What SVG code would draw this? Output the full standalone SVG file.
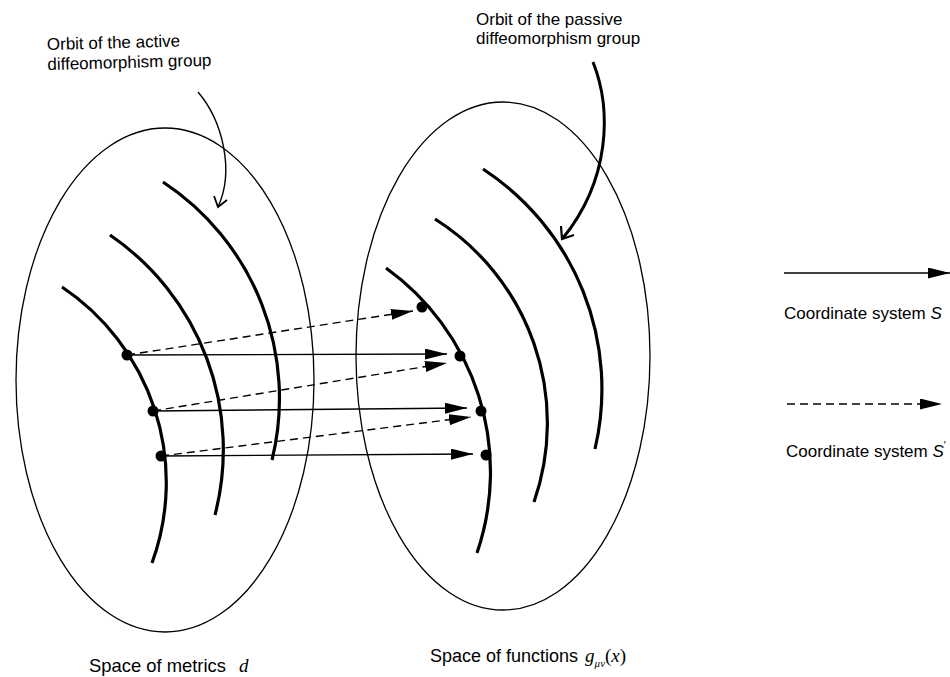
<svg xmlns="http://www.w3.org/2000/svg" width="950" height="677" viewBox="0 0 950 677">
<style>
.lbl{font-family:"Liberation Sans",Arial,sans-serif;font-size:17px;fill:#000}
.math{font-family:"Liberation Serif","DejaVu Serif",serif;font-style:italic;fill:#000}
.ell{fill:none;stroke:#000;stroke-width:1.3}
.orb{fill:none;stroke:#000;stroke-width:3.2;stroke-linecap:butt}
.conn{fill:none;stroke:#000;stroke-width:1.4}
.dash{stroke-dasharray:8 5}
.dot{fill:#000}
</style>
<defs>
<marker id="ah" markerWidth="22" markerHeight="11" refX="22" refY="5.5" orient="auto" markerUnits="userSpaceOnUse">
<path d="M0,0 L22,5.5 L0,11 Z" fill="#000"/>
</marker>
</defs>
<rect width="950" height="677" fill="#fff"/>

<g id="space-metrics">
<ellipse class="ell" cx="165" cy="380" rx="149" ry="252"/>
<text class="lbl" x="89" y="672" style="font-size:18.4px">Space of metrics <tspan class="math" dx="8" style="font-size:19px">d</tspan></text>
</g>

<g id="space-functions">
<ellipse class="ell" cx="503" cy="356" rx="147" ry="254"/>
<text class="lbl" x="430" y="662" style="font-size:18px">Space of functions <tspan class="math" dx="2" style="font-size:19px">g</tspan><tspan class="math" dy="5" style="font-size:11px">μν</tspan><tspan dy="-5" style="font-family:'Liberation Serif',serif;font-size:19px">(<tspan class="math">x</tspan>)</tspan></text>
</g>

<g id="active-orbits">
<path class="orb" d="M62,287 A235,235 0 0 1 152,563"/>
<path class="orb" d="M110,235 A260,260 0 0 1 215,515"/>
<path class="orb" d="M163,182 A259,259 0 0 1 272,460"/>
</g>

<g id="passive-orbits">
<path class="orb" d="M386,268 A251,251 0 0 1 477,553"/>
<path class="orb" d="M435,219 A241,241 0 0 1 534,502"/>
<path class="orb" d="M483,169 A263,263 0 0 1 595,449"/>
</g>

<g id="active-label">
<text class="lbl" transform="rotate(-1.5 47 50)"><tspan x="47" y="50">Orbit of the active</tspan><tspan x="47" y="70">diffeomorphism group</tspan></text>
<path d="M198,92 C222,120 235,170 218,207" fill="none" stroke="#000" stroke-width="1.4"/>
<path d="M214,196 L218,207 L227,200" fill="none" stroke="#000" stroke-width="1.8"/>
</g>

<g id="passive-label">
<text class="lbl"><tspan x="476" y="25">Orbit of the passive</tspan><tspan x="476" y="44">diffeomorphism group</tspan></text>
<path d="M593,62 C612,110 610,180 563,238" fill="none" stroke="#000" stroke-width="3"/>
<path d="M561,226 L562,239 L574,235" fill="none" stroke="#000" stroke-width="2.2"/>
</g>

<g id="connectors">
<line class="conn" x1="127" y1="355" x2="447" y2="354" marker-end="url(#ah)"/>
<line class="conn" x1="153" y1="411" x2="467" y2="408" marker-end="url(#ah)"/>
<line class="conn" x1="161" y1="456" x2="473" y2="454" marker-end="url(#ah)"/>
<line class="conn dash" x1="127" y1="355" x2="413" y2="311" marker-end="url(#ah)"/>
<line class="conn dash" x1="153" y1="411" x2="447" y2="363" marker-end="url(#ah)"/>
<line class="conn dash" x1="161" y1="456" x2="471" y2="417" marker-end="url(#ah)"/>
</g>

<g id="points">
<circle class="dot" cx="127" cy="355" r="5.5"/>
<circle class="dot" cx="153" cy="411" r="5.5"/>
<circle class="dot" cx="161" cy="456" r="5.5"/>
<circle class="dot" cx="422" cy="307" r="5.5"/>
<circle class="dot" cx="460" cy="356" r="5.5"/>
<circle class="dot" cx="481" cy="411" r="5.5"/>
<circle class="dot" cx="486" cy="455" r="5.5"/>
</g>

<g id="legend">
<line class="conn" x1="784" y1="273" x2="950" y2="273" marker-end="url(#ah)"/>
<text class="lbl" x="784" y="319">Coordinate system <tspan font-style="italic">S</tspan></text>
<line class="conn dash" x1="787" y1="404" x2="942" y2="404" marker-end="url(#ah)"/>
<text class="lbl" x="786" y="457">Coordinate system <tspan font-style="italic">S</tspan><tspan font-size="11" dy="-8">′</tspan></text>
</g>
</svg>
